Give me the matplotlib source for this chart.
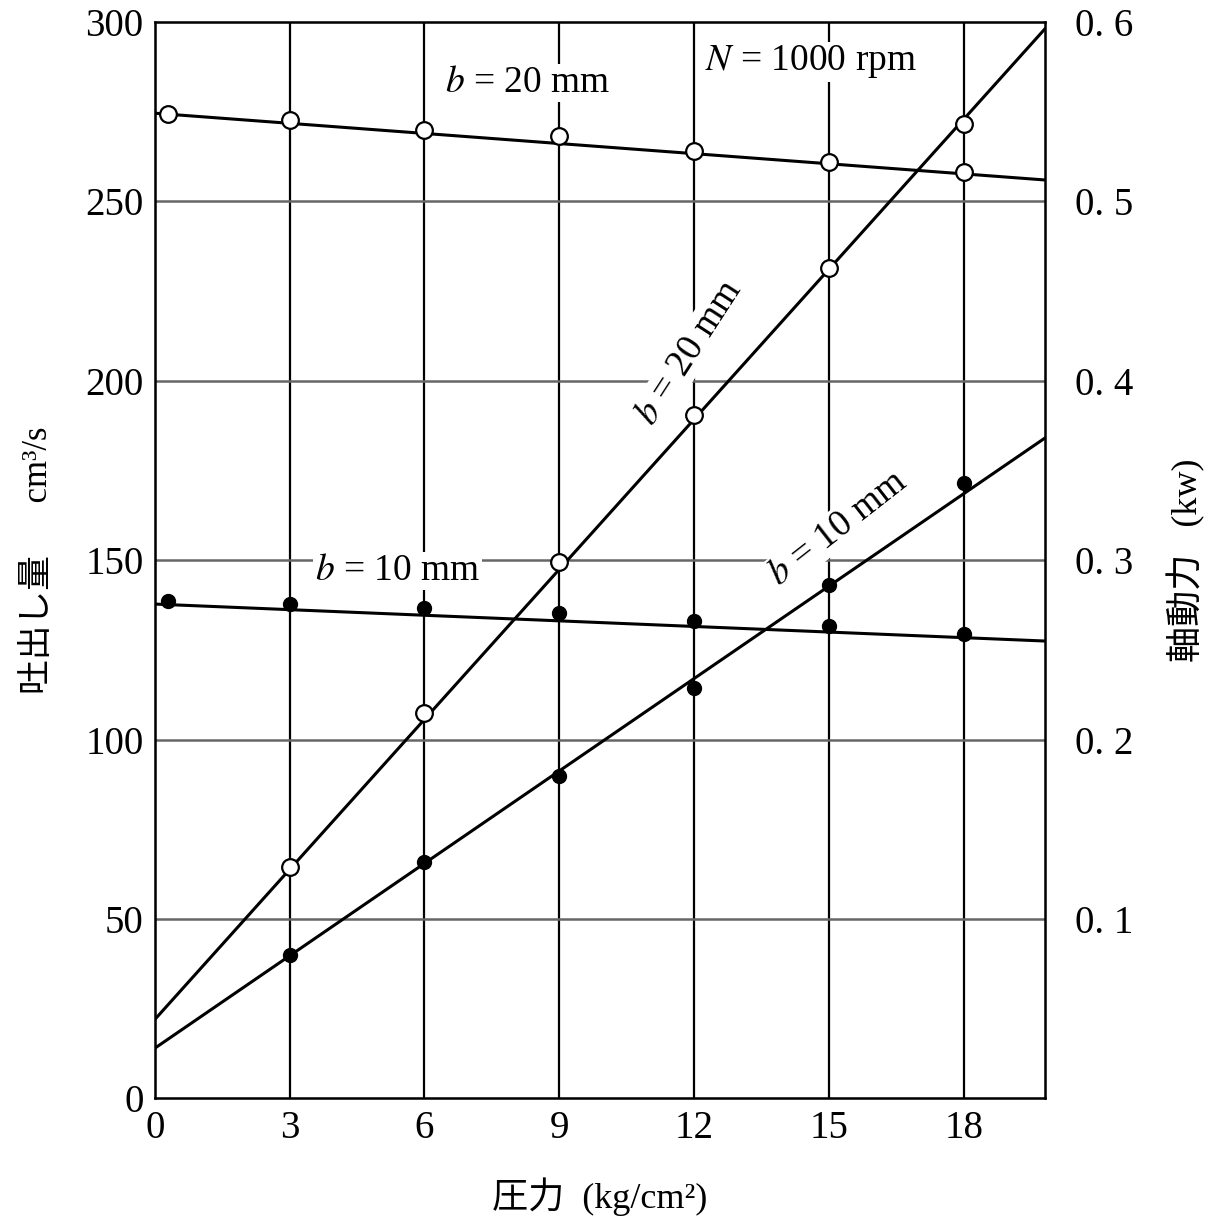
import matplotlib
matplotlib.use("Agg")
import matplotlib.pyplot as plt
import numpy as np

plt.rcParams['font.family'] = ['Liberation Serif', 'Noto Sans CJK JP']
plt.rcParams['mathtext.fontset'] = 'stix'

# measured points (pressure kg/cm2)
px = [0.3, 3, 6, 9, 12, 15, 18]
q20 = [274.5, 272.8, 270.0, 268.3, 264.1, 261.0, 258.3]   # flow b=20, cm3/s
q10 = [138.7, 137.8, 136.7, 135.3, 133.0, 131.7, 129.4]   # flow b=10, cm3/s
px_p = [3, 6, 9, 12, 15, 18]
p20 = [0.129, 0.215, 0.299, 0.381, 0.463, 0.543]         # power b=20, kW
p10 = [0.080, 0.132, 0.180, 0.229, 0.286, 0.343]         # power b=10, kW

# straight fitted lines (ends)
line_x = [0, 19.8]
q20_line = [274.6, 256.0]
q10_line = [137.8, 127.5]
p20_line = [0.044, 0.596]
p10_line = [0.028, 0.368]

xticks = [0, 3, 6, 9, 12, 15, 18]
yticks = [0, 50, 100, 150, 200, 250, 300]
rticks = [0.1, 0.2, 0.3, 0.4, 0.5, 0.6]
rlabels = ["0. 1", "0. 2", "0. 3", "0. 4", "0. 5", "0. 6"]

fig = plt.figure(figsize=(12.09, 12.26), dpi=100)
ax = fig.add_axes([0.128, 0.104, 0.736, 0.878])
ax.set_xlim(0, 19.8)
ax.set_ylim(0, 300)
ax.set_xticks(xticks)
ax.set_yticks(yticks)
ax.tick_params(length=0, labelsize=28, pad=8)
for x in xticks[1:]:
    ax.axvline(x, color='black', lw=1.6, zorder=1)
for y in yticks[1:-1]:
    ax.axhline(y, color='#666666', lw=1.8, zorder=1)
for s in ax.spines.values():
    s.set_linewidth(1.8)

ax2 = ax.twinx()
ax2.set_ylim(0, 0.6)
ax2.set_yticks(rticks)
ax2.set_yticklabels(rlabels)
ax2.tick_params(length=0, labelsize=28, pad=22)

# flow lines (left axis)
ax.plot(line_x, q20_line, color='black', lw=2.2, zorder=3)
ax.plot(px, q20, 'o', ms=12, mfc='white', mec='black', mew=1.6, zorder=4)
ax.plot(line_x, q10_line, color='black', lw=2.2, zorder=3)
ax.plot(px, q10, 'o', ms=10, color='black', zorder=4)

# power lines (right axis)
ax2.plot(line_x, p20_line, color='black', lw=2.2, zorder=3)
ax2.plot(px_p, p20, 'o', ms=12, mfc='white', mec='black', mew=1.6, zorder=4)
ax2.plot(line_x, p10_line, color='black', lw=2.2, zorder=3)
ax2.plot(px_p, p10, 'o', ms=10, color='black', zorder=4)

ax.set_xlabel("圧力  (kg/cm²)", fontsize=26, labelpad=22)
ax.set_ylabel("吐出し量      cm³/s", fontsize=25, labelpad=22)
ax2.set_ylabel("軸動力   (kw)", fontsize=26, labelpad=24)

ax.text(8.3, 283, "$b$ = 20 mm", fontsize=27, ha='center', va='center',
        bbox=dict(fc='white', ec='none', pad=1), zorder=5)
ax.text(14.6, 289, "$N$ = 1000 rpm", fontsize=27, ha='center', va='center',
        bbox=dict(fc='white', ec='none', pad=1), zorder=5)
ax.text(5.4, 147, "$b$ = 10 mm", fontsize=27, ha='center', va='center',
        bbox=dict(fc='white', ec='none', pad=1), zorder=5)
ax.text(11.9, 208, "$b$ = 20 mm", fontsize=27, ha='center', va='center',
        rotation=57, bbox=dict(fc='white', ec='none', pad=1), zorder=5)
ax.text(15.2, 159, "$b$ = 10 mm", fontsize=27, ha='center', va='center',
        rotation=38, bbox=dict(fc='white', ec='none', pad=1), zorder=5)

fig.savefig("out.png", dpi=100)
